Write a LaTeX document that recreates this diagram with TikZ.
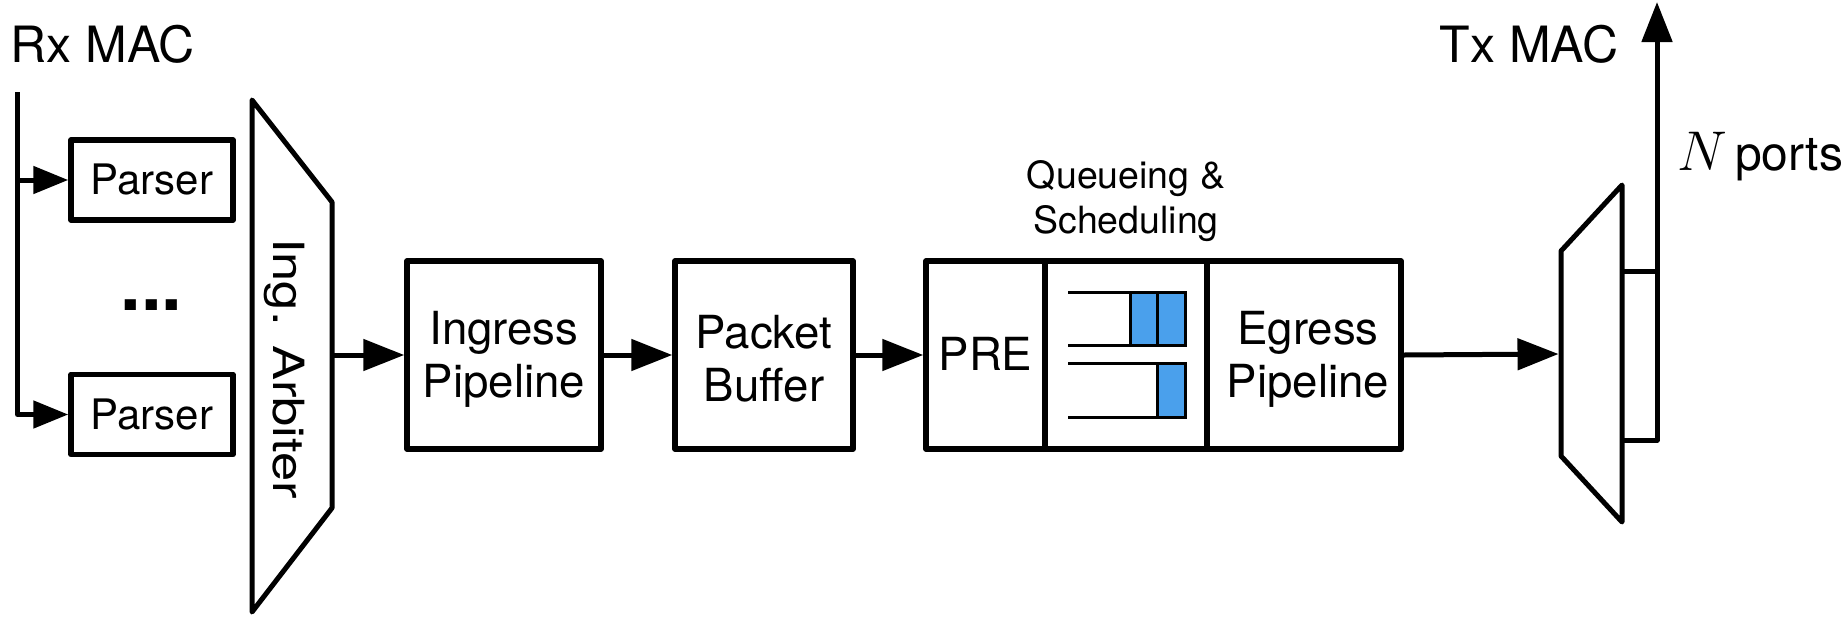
\RequirePackage{fix-cm}
\documentclass[tikz,border=0pt]{standalone}
\usepackage{fontspec}
\setmainfont{TeX Gyre Heros}
\usetikzlibrary{arrows.meta}
\definecolor{qblue}{RGB}{74,160,236}

\begin{document}
\begin{tikzpicture}[x=0.5pt,y=-0.5pt,
  blk/.style={draw, line width=2.75pt, line join=round, inner sep=0pt,
    minimum height=94pt, align=center, font=\fontsize{22.8}{26.5}\selectfont},
  blktext/.style={inner sep=0pt, align=center, font=\fontsize{22.8}{26.5}\selectfont},
  parserbox/.style={draw, line width=2.75pt, line join=round, inner sep=0pt,
    minimum width=81pt, minimum height=40pt, font=\fontsize{21}{25}\selectfont},
  wire/.style={line width=2.5pt, line join=round},
  bigarrow/.style={wire, -{Triangle[length=20.5pt,width=15.5pt]}},
  smallarrow/.style={wire, -{Triangle[length=17.5pt,width=13.5pt]}},
  qline/.style={line width=1.5pt},
  maclabel/.style={inner sep=0pt, font=\fontsize{25}{29}\selectfont}
]
\useasboundingbox (0,0) rectangle (1845,616);

% MAC labels
\node[maclabel, anchor=base west] (rx) at (10,62) {Rx MAC};
\node[maclabel, anchor=base east] (tx) at (1619,62) {Tx MAC};

% Parsers
\node[parserbox] (p1) at (152,180) {Parser};
\node[parserbox] (p2) at (152,414.5) {Parser};
\node[inner sep=0pt, anchor=base, font=\fontsize{37}{40}\selectfont\bfseries] (dots) at (151.5,310) {...};

\coordinate (rxtop) at (17.5,92);
\draw[smallarrow] (rxtop) |- (p2.west);
\draw[smallarrow] (rxtop |- p1.west) -- (p1.west);

% Ingress arbiter
\draw[wire] (252,100) -- (332,202) -- (332,508) -- (252,612) -- cycle;
\node[rotate=-90, anchor=base, inner sep=0pt, font=\fontsize{21.5}{25}\selectfont] (arbtxt)
  at (273,368.5) {\scalebox{1.22}[1]{Ing. Arbiter}};
\coordinate (arbout) at (332,355);

% Pipeline blocks (frames), labels placed slightly below centre
\node[blk, minimum width=97pt] (ing) at (504,355) {};
\node[blk, minimum width=89pt] (pkt) at (764,355) {};
\node[blk, minimum width=59.5pt] (pre) at (985.5,355) {};
\node[blk, minimum width=81pt] (qs) at (1126,355) {};
\node[blk, minimum width=97pt] (egr) at (1304,355) {};

\node[blktext] (ingtxt) at (504,359) {Ingress\\Pipeline};
\node[blktext] (pkttxt) at (764,359) {Packet\\Buffer};
\node[blktext] (pretxt) at (985.5,354) {PRE};
\node[blktext] (egrtxt) at (1308,359) {Egress\\Pipeline};

\node[anchor=north, inner sep=0pt, align=center, font=\fontsize{18.75}{22.5}\selectfont]
  (qstxt) at (1126,160) {Queueing \&\\Scheduling};

% Queues
\draw[qline] (1068,292) -- (1185,292) -- (1185,345) -- (1068,345);
\filldraw[qline, fill=qblue] (1130,292) rectangle (1157,345);
\filldraw[qline, fill=qblue] (1157,292) rectangle (1185,345);
\draw[qline] (1068,363) -- (1185,363) -- (1185,417) -- (1068,417);
\filldraw[qline, fill=qblue] (1157,363) rectangle (1185,417);

\draw[bigarrow] (arbout) -- (ing.west);
\draw[bigarrow] (ing.east) -- (pkt.west);
\draw[bigarrow] (pkt.east) -- (pre.west);

% Egress demultiplexer
\draw[wire] (1561,251) -- (1622,185) -- (1622,522) -- (1561,456) -- cycle;
\coordinate (muxin) at (1558.5,354);
\draw[bigarrow] (egr.east) -- (muxin);

\coordinate (port1) at (1622,271);
\coordinate (port2) at (1622,440);
\coordinate (txtop) at (1657,2);
\draw[wire] (port1) -- (port1 -| txtop);
\draw[wire, -{Triangle[length=20pt,width=15pt]}] (port2) -| (txtop);

\node[anchor=base west, inner sep=0pt] (nports) at (1677,170)
  {\fontsize{28}{30}\selectfont$N$\hspace{4pt}\fontsize{24}{28}\selectfont ports};
\end{tikzpicture}
\end{document}
